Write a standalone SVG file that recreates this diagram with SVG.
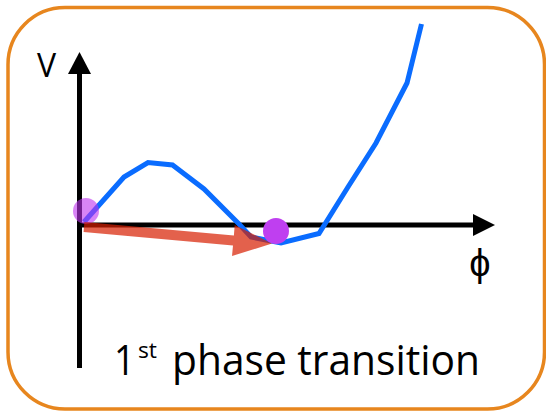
<svg xmlns="http://www.w3.org/2000/svg" width="546" height="412" viewBox="0 0 546 412">
  <style>
    .axis { stroke: #000; stroke-width: 5; fill: none; }
    .head { fill: #000; }
    .lbl { font-family: "Open Sans", "Liberation Sans", sans-serif; fill: #000; }
  </style>
  <rect width="546" height="412" fill="#fff"/>
  <g id="frame">
    <rect x="8" y="7.5" width="536.5" height="401.5" rx="57" ry="57" fill="#fff" stroke="#E7861E" stroke-width="3.5"/>
  </g>
  <g id="axes">
    <line class="axis" x1="79.5" y1="368" x2="79.5" y2="70"/>
    <polygon class="head" points="79.5,52 91,74 68,74"/>
    <line class="axis" x1="79.5" y1="225" x2="478" y2="225"/>
    <polygon class="head" points="495,225 473,236 473,214"/>
  </g>
  <g id="curve">
    <polyline points="84,222 124,177 148,162.5 172.5,165 204,189 239,224 251,237 281,243 319,233.5 348,187 376,143 407,83 421.5,24" fill="none" stroke="#0A6CFF" stroke-width="5" stroke-linejoin="miter"/>
  </g>
  <g id="false-vacuum">
    <circle cx="86" cy="211" r="13" fill="rgb(190,50,240)" fill-opacity="0.6"/>
  </g>
  <g id="connectors">
    <polygon points="84.4,222 233.9,235.5 234.7,225 272,243.5 232,256 233,245.5 83.6,232" fill="rgb(215,30,0)" fill-opacity="0.7"/>
  </g>
  <g id="true-vacuum">
    <circle cx="276" cy="231" r="13" fill="#BF3FF0"/>
  </g>
  <g id="labels">
    <text class="lbl" x="46.5" y="77" font-size="32" text-anchor="middle">V</text>
    <text class="lbl" x="480" y="276" font-size="38" text-anchor="middle">ϕ</text>
    <text class="lbl" x="114" y="375" font-size="42" textLength="21" lengthAdjust="spacingAndGlyphs">1</text>
    <text class="lbl" x="138" y="358" font-size="22" textLength="19" lengthAdjust="spacingAndGlyphs">st</text>
    <text class="lbl" x="172" y="375" font-size="42" textLength="308" lengthAdjust="spacingAndGlyphs">phase transition</text>
  </g>
</svg>
